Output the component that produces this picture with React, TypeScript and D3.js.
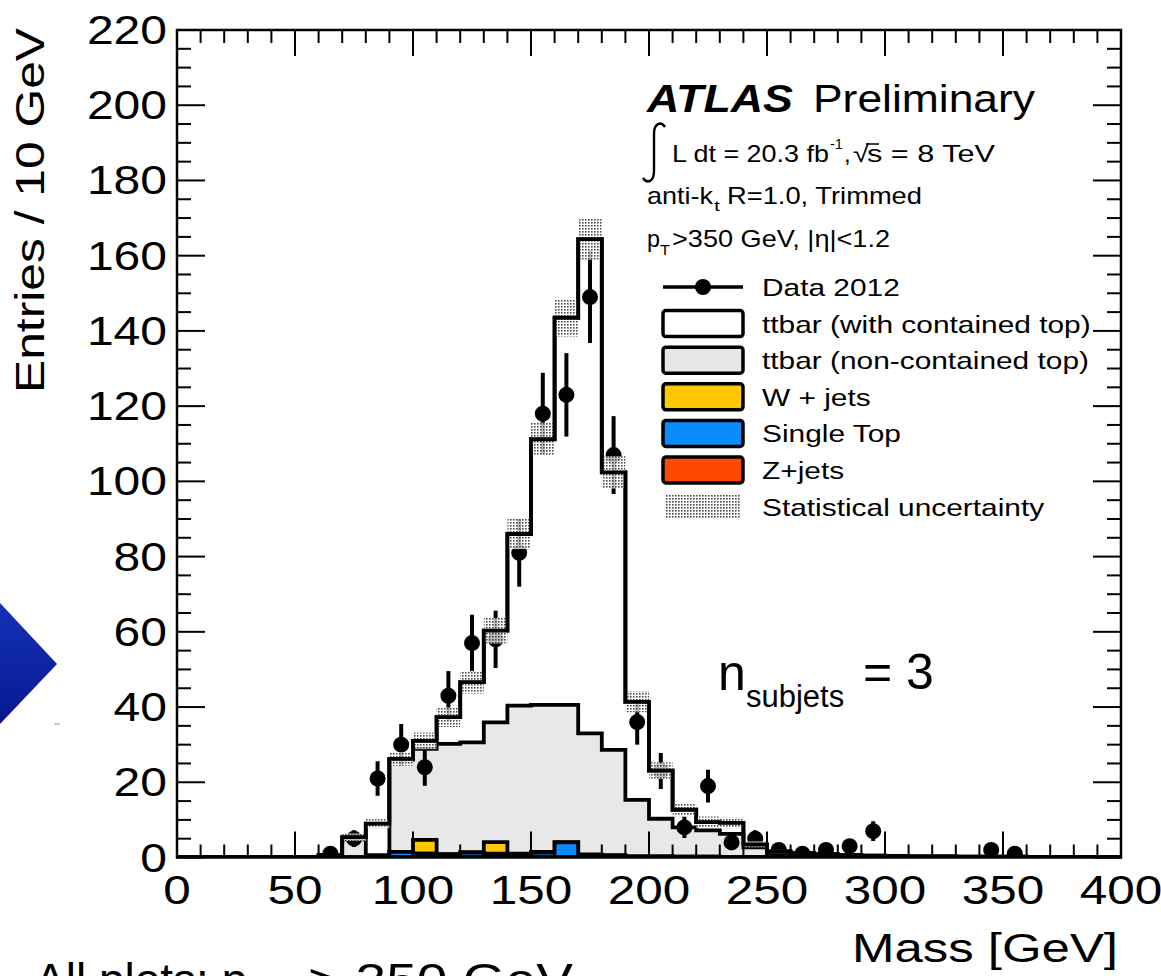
import React from "react";
import * as d3 from "d3";

// ---------- data (10 GeV bins, low edges 0..390) ----------
const binLowEdges = d3.range(0, 400, 10);

const zJets = [0,0,0,0,0,0,0,0,0,0.1,0.1,0.1,0.1,0.1,0.1,0.1,0.1,0.1,0.1,0,0,0,0,0,0,0,0,0,0,0,0,0,0,0,0,0,0,0,0,0];
const singleTop = [0,0,0,0,0,0,0,0,0,1.4,1.0,0.7,1.2,0.9,0.7,1.2,3.9,0.5,0.4,0.3,0.3,0.2,0.2,0.1,0.1,0,0,0,0,0,0,0,0,0,0,0,0,0,0,0];
const wJets = [0,0,0,0,0,0,0,0,0,0,3.6,0.1,0.1,3.1,0.2,0.2,0.1,0.2,0.1,0,0,0,0,0,0,0,0,0,0,0,0,0,0,0,0,0,0,0,0,0];
const ttbarNonContained = [0,0,0,0,0,0,0.3,4.8,0.6,24.5,24.2,29.3,29.2,31.8,39.4,39.1,36.5,32.2,28.0,15.0,10.0,7.8,7.0,6.2,2.6,1.2,0.8,0.6,0.5,0.4,0.3,0.2,0.2,0.1,0.1,0.1,0.1,0.1,0.1,0.1];
const ttbarContained = [0,0,0,0,0,0,0.3,0.6,8.4,0.2,2.1,7.1,16.0,24.4,45.6,70.6,102.9,131.4,73.8,26.1,12.8,4.7,2.2,2.9,0.8,0.4,0.4,0.3,0.2,0.1,0.1,0.1,0.1,0.1,0.1,0.1,0,0,0,0];
const statUnc = [0,0,0,0,0,0,0.3,1.0,1.2,1.8,2.2,2.6,3.0,3.4,4.0,4.4,5.0,5.5,4.3,2.8,2.2,1.7,1.5,1.4,0.8,0.5,0.4,0.3,0.3,0.3,0.3,0.3,0.3,0.3,0.3,0.3,0.2,0.2,0.2,0.2];

const dataMass = [65,75,85,95,105,115,125,135,145,155,165,175,185,195,205,215,225,235,245,255,265,275,285,295,345,355];
const dataCounts = [1,5,21,30,24,43,57,58,81,118,123,149,107,36,23,8,19,4,5,2,1,2,3,7,2,1];

const xMajorTicks = [0,50,100,150,200,250,300,350,400];
const yMajorTicks = [0,20,40,60,80,100,120,140,160,180,200,220];

const legendItems = [
  { label: "ttbar (with contained top)", fill: "#ffffff" },
  { label: "ttbar (non-contained top)", fill: "#e6e6e6" },
  { label: "W + jets", fill: "#ffc800" },
  { label: "Single Top", fill: "#0a8cff" },
  { label: "Z+jets", fill: "#ff4800" },
];

// ---------- layout ----------
const W = 1161, H = 976;
const X0 = 177, X1 = 1121, Y0 = 857.5, Y1 = 30;
const FONT = "'Liberation Sans', Arial, Helvetica, sans-serif";

const x = d3.scaleLinear().domain([0, 400]).range([X0, X1]);
const y = d3.scaleLinear().domain([0, 220]).range([Y0, Y1]);

function Txt(props: any) {
  const { x, y, size, children, anchor = "start", sx = 1, w, weight = "normal", italic = false, rot = 0, fill = "#000" } = props;
  let tr = `translate(${x},${y})`;
  if (rot) tr += ` rotate(${rot})`;
  if (sx !== 1) tr += ` scale(${sx},1)`;
  return (
    <text
      transform={tr}
      fontSize={size}
      fontFamily={FONT}
      textAnchor={anchor}
      fontWeight={weight}
      fontStyle={italic ? "italic" : "normal"}
      fill={fill}
      textLength={w}
      lengthAdjust={w ? "spacingAndGlyphs" : undefined}
    >
      {children}
    </text>
  );
}

function cumulative(...layers: number[][]) {
  return binLowEdges.map((_, i) => layers.reduce((s, l) => s + l[i], 0));
}

function stepPath(vals: number[], close = true) {
  let d = `M${x(0)},${y(0)}`;
  vals.forEach((v, i) => {
    d += `L${x(binLowEdges[i])},${y(v)}L${x(binLowEdges[i] + 10)},${y(v)}`;
  });
  d += `L${x(400)},${y(0)}`;
  if (close) d += "Z";
  return d;
}

export default function App() {
  const c1 = cumulative(zJets);
  const c2 = cumulative(zJets, singleTop);
  const c3 = cumulative(zJets, singleTop, wJets);
  const c4 = cumulative(zJets, singleTop, wJets, ttbarNonContained);
  const c5 = cumulative(zJets, singleTop, wJets, ttbarNonContained, ttbarContained);

  const layers = [
    { vals: c5, fill: "#ffffff" },
    { vals: c4, fill: "#e8e8e8" },
    { vals: c3, fill: "#ffc800" },
    { vals: c2, fill: "#0a8cff" },
    { vals: c1, fill: "#ff4800" },
  ];

  const xMinor = d3.range(0, 401, 10);
  const yMinor = d3.range(0, 221, 5);

  const legX = 663, legW = 80, legH = 26, legTextX = 762;
  const legY0 = 287, legStep = 36.6;

  return (
    <svg width={W} height={H} viewBox={`0 0 ${W} ${H}`} style={{ position: "absolute", left: 0, top: 0, background: "#fff" }}>
      <defs>
        <pattern id="dots" width="3" height="3" patternUnits="userSpaceOnUse">
          <rect width="3" height="3" fill="#ffffff" fillOpacity={0.75} />
          <rect width="1.6" height="1.6" fill="#4a4a4a" />
        </pattern>
        <clipPath id="plotClip">
          <rect x={X0} y={Y1} width={X1 - X0} height={Y0 - Y1} />
        </clipPath>
        <linearGradient id="arrowGrad" x1="0" y1="0" x2="0" y2="1">
          <stop offset="0" stopColor="#1631b8" />
          <stop offset="1" stopColor="#06188f" />
        </linearGradient>
      </defs>
      <rect x={0} y={0} width={W} height={H} fill="#fff" />

      {/* slide arrow */}
      <polygon points="0,603 57,664 0,724" fill="url(#arrowGrad)" />
      <line x1={54} y1={724} x2={60} y2={724} stroke="#999" strokeWidth={1} />

      {/* stacked histograms */}
      <g clipPath="url(#plotClip)">
        {layers.map((l, i) => (
          <path key={i} d={stepPath(l.vals)} fill={l.fill} stroke="#000" strokeWidth={3.8} strokeLinejoin="miter" />
        ))}

        {/* data points */}
        {dataMass.map((m, i) => {
          const n = dataCounts[i];
          const e = Math.sqrt(n);
          return (
            <g key={"d" + i}>
              <line x1={x(m)} x2={x(m)} y1={y(n - e)} y2={y(n + e)} stroke="#000" strokeWidth={4} />
              <circle cx={x(m)} cy={y(n)} r={8} fill="#000" />
            </g>
          );
        })}

        {/* statistical uncertainty band */}
        {binLowEdges.map((e, i) =>
          c5[i] > 0 ? (
            <rect
              key={"u" + i}
              x={x(e)}
              width={x(e + 10) - x(e)}
              y={y(c5[i] + statUnc[i])}
              height={Math.max(y(c5[i] - statUnc[i]) - y(c5[i] + statUnc[i]), 0)}
              fill="url(#dots)"
            />
          ) : null
        )}

        {/* total outline redrawn on top */}
        <path d={stepPath(c5, false)} fill="none" stroke="#000" strokeWidth={3.8} strokeLinejoin="miter" />
      </g>

      {/* axes frame and ticks */}
      <rect x={X0} y={Y1} width={X1 - X0} height={Y0 - Y1} fill="none" stroke="#000" strokeWidth={2.5} />
      {xMinor.map((v) => {
        const len = v % 50 === 0 ? 26 : 13;
        return (
          <g key={"xt" + v}>
            <line x1={x(v)} x2={x(v)} y1={Y0} y2={Y0 - len} stroke="#000" strokeWidth={2} />
            <line x1={x(v)} x2={x(v)} y1={Y1} y2={Y1 + len} stroke="#000" strokeWidth={2} />
          </g>
        );
      })}
      {yMinor.map((v) => {
        const len = v % 20 === 0 ? 28 : 14;
        return (
          <g key={"yt" + v}>
            <line x1={X0} x2={X0 + len} y1={y(v)} y2={y(v)} stroke="#000" strokeWidth={2} />
            <line x1={X1} x2={X1 - len} y1={y(v)} y2={y(v)} stroke="#000" strokeWidth={2} />
          </g>
        );
      })}

      {/* tick labels */}
      {yMajorTicks.map((v) => (
        <Txt key={"yl" + v} x={167} y={y(v) + 14} size={40} anchor="end" w={26.7 * String(v).length}>
          {String(v)}
        </Txt>
      ))}
      {xMajorTicks.map((v) => (
        <Txt key={"xl" + v} x={x(v)} y={904} size={40} anchor="middle" w={27.5 * String(v).length}>
          {String(v)}
        </Txt>
      ))}

      {/* axis titles */}
      <Txt x={1118} y={962} size={40} anchor="end" w={266}>Mass [GeV]</Txt>
      <Txt x={44} y={28} size={40} anchor="end" rot={-90} w={365}>Entries / 10 GeV</Txt>

      {/* ATLAS labels */}
      <Txt x={647} y={112} size={39} weight="bold" italic w={146}>ATLAS</Txt>
      <Txt x={813} y={112} size={39} w={222}>Preliminary</Txt>

      <path d="M665,127 C661,121 654,123 654,134 L654,171 C654,182 647,184 643,178" fill="none" stroke="#000" strokeWidth={2.4} />
      <Txt x={672} y={162} size={24} w={157}>L dt = 20.3 fb</Txt>
      <Txt x={830} y={149} size={15} w={13}>-1</Txt>
      <Txt x={844} y={162} size={24}>,</Txt>
      <Txt x={853} y={162} size={24} w={16}>√</Txt>
      <line x1={866} x2={879} y1={144} y2={144} stroke="#000" strokeWidth={1.5} />
      <Txt x={867} y={162} size={24} w={128}>s = 8 TeV</Txt>

      <Txt x={647} y={204} size={24} w={66}>anti-k</Txt>
      <Txt x={714} y={211} size={15} w={6}>t</Txt>
      <Txt x={727} y={204} size={24} w={195}>R=1.0, Trimmed</Txt>

      <Txt x={647} y={247} size={24} w={13}>p</Txt>
      <Txt x={660} y={255} size={15} w={10}>T</Txt>
      <Txt x={672} y={247} size={24} w={218}>&gt;350 GeV, |η|&lt;1.2</Txt>

      {/* legend */}
      <line x1={legX} x2={legX + legW} y1={legY0} y2={legY0} stroke="#000" strokeWidth={3.5} />
      <circle cx={legX + 40} cy={legY0} r={8} fill="#000" />
      <Txt x={legTextX} y={legY0 + 9} size={24} sx={1.245}>Data 2012</Txt>
      {legendItems.map((it, i) => {
        const cy = legY0 + legStep * (i + 1);
        return (
          <g key={"lg" + i}>
            <rect x={legX} y={cy - legH / 2} width={legW} height={legH} rx={3} fill={it.fill} stroke="#000" strokeWidth={3.5} />
            <Txt x={legTextX} y={cy + 9} size={24} sx={1.245}>{it.label}</Txt>
          </g>
        );
      })}
      {(() => {
        const cy = legY0 + legStep * 6;
        return (
          <g>
            <rect x={legX + 2} y={cy - 12} width={legW - 4} height={24} fill="url(#dots)" />
            <Txt x={legTextX} y={cy + 9} size={24} sx={1.245}>Statistical uncertainty</Txt>
          </g>
        );
      })()}

      {/* n_subjets annotation */}
      <Txt x={718} y={690} size={50}>n</Txt>
      <Txt x={746} y={707} size={31}>subjets</Txt>
      <Txt x={863} y={689} size={50}>= 3</Txt>

      {/* slide caption (cut at the bottom, as in the reference) */}
      <Txt x={35} y={996} size={46}>All plots: p</Txt>
      <Txt x={252} y={1008} size={30}>T</Txt>
      <Txt x={308} y={996} size={46} w={265}>&gt; 350 GeV</Txt>
    </svg>
  );
}
